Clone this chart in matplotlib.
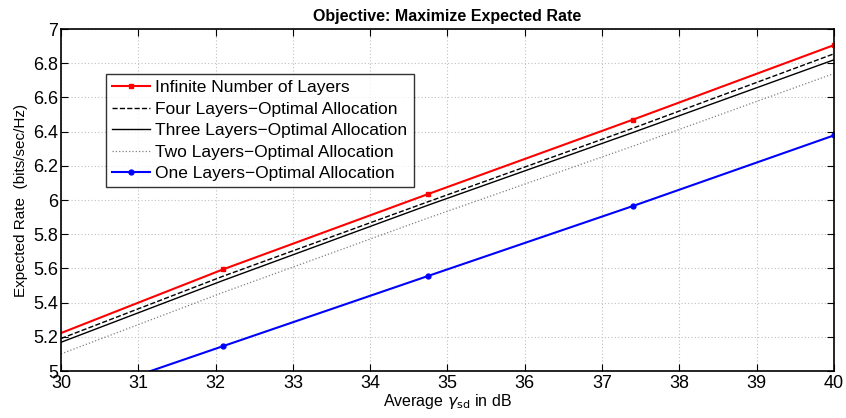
import matplotlib
matplotlib.use("Agg")
import matplotlib.pyplot as plt

plt.rcParams['font.family'] = ['Liberation Sans', 'DejaVu Sans']

# data
x = [30, 32.1, 34.75, 37.4, 40]
infinite = [5.222, 5.595, 6.035, 6.47, 6.906]
four = [5.19, 5.555, 5.99, 6.42, 6.855]
three = [5.168, 5.53, 5.97, 6.395, 6.82]
two = [5.10, 5.46, 5.895, 6.315, 6.74]
x_one = [30, 32.1, 34.75, 37.4, 40]
one = [4.82, 5.146, 5.556, 5.965, 6.378]

fig = plt.figure(figsize=(8.46, 4.18), dpi=100)
ax = fig.add_axes([0.0721, 0.1124, 0.9137, 0.8182])

ax.plot(x, infinite, color='red', lw=1.5, marker='s', ms=3.5, markevery=[1, 2, 3, 4],
        label='Infinite Number of Layers')
ax.plot(x, four, 'k--', lw=1.0, label='Four Layers\u2212Optimal Allocation')
ax.plot(x, three, 'k-', lw=1.0, label='Three Layers\u2212Optimal Allocation')
ax.plot(x, two, ':', color='#808080', lw=0.9, label='Two Layers\u2212Optimal Allocation')
ax.plot(x_one, one, color='blue', lw=1.5, marker='o', ms=3.5, markevery=[1, 2, 3, 4],
        label='One Layers\u2212Optimal Allocation')

ax.set_xlim(30, 40)
ax.set_ylim(5, 7)
ax.set_xticks(range(30, 41))
ax.set_yticks([5, 5.2, 5.4, 5.6, 5.8, 6, 6.2, 6.4, 6.6, 6.8, 7])
ax.set_yticklabels(['5', '5.2', '5.4', '5.6', '5.8', '6', '6.2', '6.4', '6.6', '6.8', '7'])
ax.tick_params(direction='in', labelsize=13, length=5, top=True, right=True, pad=2)
ax.tick_params(axis='x', pad=3)
ax.grid(True, linestyle=(0, (1, 2)), color='#c0c0c0', lw=0.8)
for s in ax.spines.values():
    s.set_linewidth(1.2)

ax.set_title('Objective: Maximize Expected Rate', fontsize=11.5, fontweight='bold')
ax.set_xlabel(r'Average $\gamma_{\mathrm{sd}}$ in dB', fontsize=11.5, labelpad=0)
ax.set_ylabel('Expected Rate  (bits/sec/Hz)', fontsize=11)

leg = ax.legend(loc='upper left', bbox_to_anchor=(0.058, 0.868), fontsize=12.5,
                frameon=True, fancybox=False, edgecolor='black', handlelength=2.2,
                borderpad=0.35, labelspacing=0.36, handletextpad=0.3, borderaxespad=0)
leg.get_frame().set_linewidth(1.0)

fig.savefig('out.png', dpi=100)
